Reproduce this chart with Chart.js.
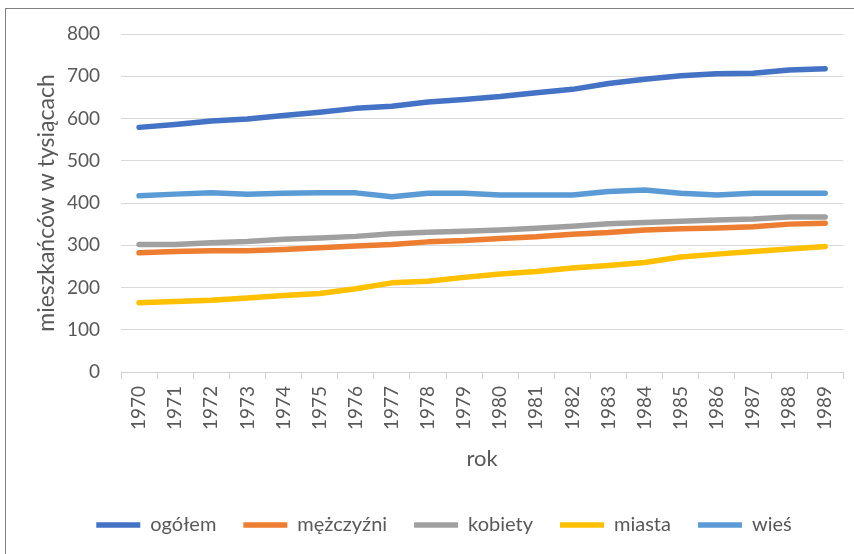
<!DOCTYPE html>
<html>
<head>
<meta charset="utf-8">
<script src="https://cdn.jsdelivr.net/npm/chart.js@4"></script>
<style>
  html, body { margin: 0; padding: 0; background: #fff; overflow: hidden; width: 854px; height: 554px; }
  #frame { position: absolute; left: 5px; top: 8px; width: 900px; height: 600px; border-left: 1px solid #808080; border-top: 1px solid #808080; }
  #wrap { position: absolute; left: 33px; top: 0; width: 822px; height: 554px; }
</style>
</head>
<body>
<div id="frame"></div>
<div id="wrap"><canvas id="c" width="822" height="554"></canvas></div>
<script>
const years = ['1970','1971','1972','1973','1974','1975','1976','1977','1978','1979',
               '1980','1981','1982','1983','1984','1985','1986','1987','1988','1989'];
const ogolem     = [579, 586, 594, 599, 607, 615, 624, 629, 639, 645, 652, 661, 669, 683, 693, 701, 706, 707, 715, 718];
const mezczyzni  = [282, 285, 287, 287, 290, 294, 298, 302, 308, 311, 316, 320, 326, 330, 336, 339, 341, 344, 350, 352];
const kobiety    = [302, 302, 306, 309, 314, 317, 321, 327, 331, 333, 336, 340, 345, 351, 354, 357, 360, 362, 367, 367];
const miasta     = [164, 167, 170, 175, 181, 186, 197, 211, 215, 224, 232, 238, 246, 252, 259, 272, 279, 285, 291, 297];
const wies       = [417, 421, 424, 421, 423, 424, 424, 415, 423, 423, 419, 419, 419, 427, 431, 423, 419, 423, 423, 423];
const seriesNames = ['ogółem', 'mężczyźni', 'kobiety', 'miasta', 'wieś'];
const yTitle = 'mieszkańców w tysiącach';
const xTitle = 'rok';

const colors = ['#4472C4', '#ED7D31', '#A0A0A0', '#FFC000', '#5B9BD5'];
const values = [ogolem, mezczyzni, kobiety, miasta, wies];

const txt = '#595959';
const FONT = 'Lato';

const datasets = values.map((v, i) => ({
  label: seriesNames[i],
  data: v,
  borderColor: colors[i],
  backgroundColor: colors[i],
  borderWidth: 5.5,
  borderCapStyle: 'round',
  borderJoinStyle: 'round',
  pointRadius: 0,
  pointHoverRadius: 0,
  tension: 0,
  fill: false
}));

new Chart(document.getElementById('c'), {
  type: 'line',
  data: { labels: years, datasets: datasets },
  options: {
    responsive: false,
    animation: false,
    layout: { padding: { left: 0, right: 0, top: 34, bottom: 9 } },
    plugins: {
      tooltip: { enabled: false },
      legend: {
        position: 'bottom',
        align: 'center',
        labels: {
          usePointStyle: true,
          pointStyle: 'line',
          pointStyleWidth: 44,
          boxWidth: 44,
          boxHeight: 20,
          padding: 27,
          color: txt,
          font: { family: FONT, size: 20 }
        }
      }
    },
    scales: {
      x: {
        offset: true,
        afterFit: (s) => { s.height = 116; },
        grid: {
          offset: true,
          drawOnChartArea: false,
          drawTicks: true,
          tickLength: 7,
          color: '#d0d0d0'
        },
        border: { display: true, color: '#d0d0d0', width: 1 },
        ticks: {
          autoSkip: false,
          maxRotation: 90,
          minRotation: 90,
          padding: 7,
          color: txt,
          font: { family: FONT, size: 19 }
        },
        title: {
          display: true,
          text: xTitle,
          color: txt,
          font: { family: FONT, size: 22 },
          padding: { top: 0, bottom: 16 }
        }
      },
      y: {
        min: 0,
        max: 800,
        afterFit: (s) => { s.width = 88; },
        grid: { color: '#d9d9d9', lineWidth: 1, drawTicks: false },
        border: { display: false },
        ticks: {
          stepSize: 100,
          padding: 21,
          color: txt,
          font: { family: FONT, size: 19 }
        },
        title: {
          display: true,
          text: yTitle,
          color: txt,
          font: { family: FONT, size: 23 },
          padding: { top: 0, bottom: 0 }
        }
      }
    }
  }
});
</script>
</body>
</html>
